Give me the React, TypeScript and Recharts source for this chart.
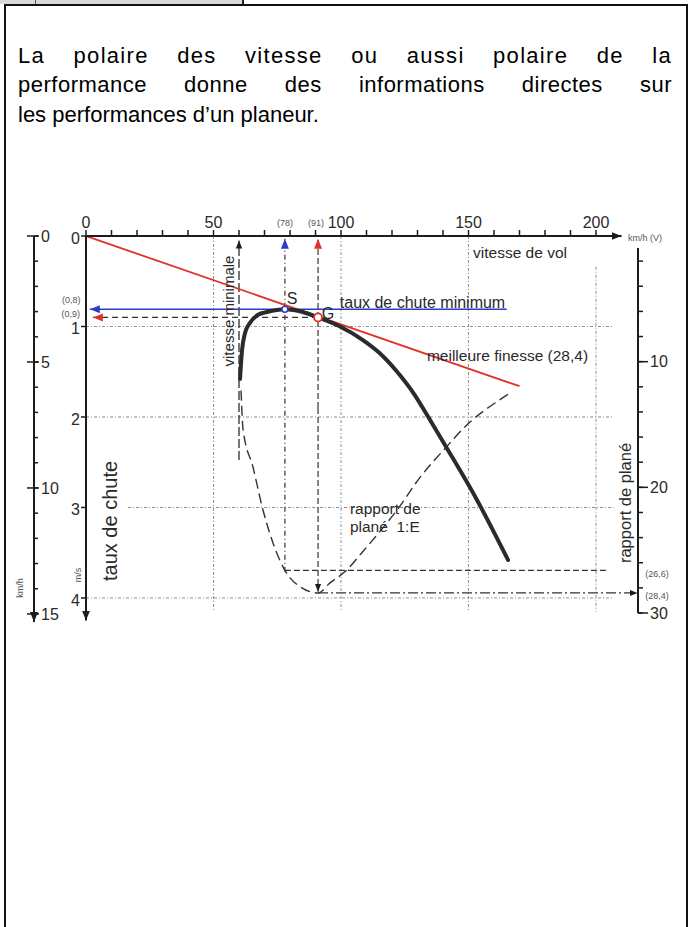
import React from 'react';
import { ComposedChart, Line, XAxis, YAxis, ReferenceLine, ReferenceDot } from 'recharts';

const FONT = '"Liberation Sans", Arial, Helvetica, sans-serif';

// ---------- data ----------
const speedTicks = [0, 10, 20, 30, 40, 50, 60, 70, 80, 90, 100, 110, 120, 130, 140, 150, 160, 170, 180, 190, 200];
const speedLabels = [0, 50, 100, 150, 200];
const sinkTicks = [0, 1, 2, 3, 4];
const kmhTicks = [0, 1, 2, 3, 4, 5, 6, 7, 8, 9, 10, 11, 12, 13, 14, 15];
const kmhLabels = [0, 5, 10, 15];
const glideTicks = [2, 4, 6, 8, 10, 12, 14, 16, 18, 20, 22, 24, 26, 28, 30];
const glideLabels = [10, 20, 30];

// polaire des vitesses (km/h -> m/s)
const polarSpeed = [60.4, 61.2, 62.4, 64.3, 67.5, 71, 78, 85, 91, 99.6, 108.6, 115, 122, 129, 134, 141, 153, 165.5];
const polarSink = [1.58, 1.26, 1.07, 0.96, 0.87, 0.84, 0.81, 0.84, 0.9, 1.0, 1.15, 1.29, 1.5, 1.76, 1.99, 2.32, 2.9, 3.58];

// rapport de plané 1:E (km/h -> E)
const glideSpeed = [60.8, 61.6, 65.5, 69.4, 73.3, 78, 83.9, 91, 95.7, 101.6, 108.6, 116.5, 122, 131, 140.8, 150.6, 161, 166.3];
const glideRatio = [12.3, 15.4, 18.4, 21.8, 24.4, 26.6, 27.9, 28.4, 27.6, 26.7, 25.1, 23.2, 21.8, 19.2, 16.9, 14.8, 13.2, 12.5];

// tangente meilleure finesse
const tangentSpeed = [0, 170];
const tangentSink = [0, 1.66];

// grid
const gridSpeeds = [50, 100, 150, 200];
const gridSpeedFrom = [0, 0, 0, 0.34];
const gridSinks = [1, 2, 3, 4];
const gridSinkFrom = [0, 0, 16.5, 0];

// key values
const minSinkSpeed = 78;
const minSink = 0.81;
const bestGlideSpeed = 91;
const bestGlideSink = 0.9;
const minSpeed = 60;
const glideAtMinSink = 26.6;
const bestGlide = 28.4;

// annotations [text, speed, sink]
const annoTexts = ['S', 'G', 'taux de chute minimum', 'vitesse de vol', 'meilleure finesse (28,4)'];
const annoSpeeds = [80.8, 94.9, 131.96, 170.2, 165.3];
const annoSinks = [0.685, 0.851, 0.729, 0.177, 1.315];
const annoSizes = [16, 16, 16, 15.5, 15.5];

const smallTexts = ['km/h (V)', '(78)', '(91)', '(0,8)', '(0,9)', '(26,6)', '(28,4)'];
const smallSpeeds = [219.2, 78, 90.2, -5.8, -6.0, 223.9, 223.9];
const smallSinks = [0.022, -0.144, -0.144, 0.71, 0.855, 3.735, 3.978];

const polarData = polarSpeed.map((v, i) => ({ v, w: polarSink[i] }));
const glideData = glideSpeed.map((v, i) => ({ v, e: glideRatio[i] }));
const tangentData = tangentSpeed.map((v, i) => ({ v, w: tangentSink[i] }));

const INK = '#1c1c1c';
const TXT = '#2a2a2a';
const GRID = '#8c8c8c';
const BLUE = '#2c3cc9';
const RED = '#e0312b';

function Marker({ id, color, size }: { id: string; color: string; size: number }) {
  return (
    <marker id={id} viewBox="0 0 10 10" refX={10} refY={5} markerWidth={size} markerHeight={size} markerUnits="userSpaceOnUse" orient="auto">
      <path d="M0,1 L10,5 L0,9 z" fill={color} />
    </marker>
  );
}

function Defs() {
  return (
    <svg width={0} height={0} style={{ position: 'absolute', left: 0, top: 0 }}>
      <defs>
        <Marker id="arrAxis" color={INK} size={10} />
        <Marker id="arrBlack" color={INK} size={8} />
        <Marker id="arrBlue" color={BLUE} size={10} />
        <Marker id="arrRed" color={RED} size={10} />
      </defs>
    </svg>
  );
}

function KmhTick(props: any) {
  const { x, y, payload } = props;
  const v = payload.value;
  const major = kmhLabels.includes(v);
  return (
    <g>
      {major && <line x1={x - 14} x2={x - 2} y1={y} y2={y} stroke={INK} strokeWidth={1.5} />}
      {major && (
        <text x={x} y={y} dy="0.36em" fontSize={16} fill={TXT} fontFamily={FONT} textAnchor="start">
          {v}
        </text>
      )}
    </g>
  );
}

function GlideTick(props: any) {
  const { x, y, payload } = props;
  const v = payload.value;
  const major = glideLabels.includes(v);
  return (
    <g>
      {major && <line x1={x - 12} x2={x - 2} y1={y} y2={y} stroke={INK} strokeWidth={1.5} />}
      {major && (
        <text x={x} y={y} dy="0.36em" fontSize={16} fill={TXT} fontFamily={FONT} textAnchor="start">
          {v}
        </text>
      )}
    </g>
  );
}

const dummyK = [{ v: 0, k: 1 }, { v: 1, k: 14 }];
const dummyG = [{ v: 0, g: 2 }, { v: 1, g: 28 }];

export default function App() {
  return (
    <div style={{ position: 'absolute', left: 0, top: 0, width: 689, height: 927, background: '#fff', fontFamily: FONT, overflow: 'hidden' }}>
      <Defs />
      {/* frame */}
      <div style={{ position: 'absolute', left: 0, top: 0, width: 243, height: 4, background: '#d8d8d8' }} />
      <div style={{ position: 'absolute', left: 35, top: 0, width: 1, height: 4, background: '#555' }} />
      <div style={{ position: 'absolute', left: 242, top: 0, width: 1.5, height: 4, background: '#222' }} />
      <div style={{ position: 'absolute', left: 4, top: 4, width: 684, height: 2, background: '#111' }} />
      <div style={{ position: 'absolute', left: 4, top: 4, width: 2, height: 923, background: '#111' }} />
      <div style={{ position: 'absolute', left: 686, top: 4, width: 2, height: 923, background: '#111' }} />

      {/* paragraph */}
      <div style={{ position: 'absolute', left: 18, top: 40.6, width: 654, fontSize: 22, lineHeight: '29.5px', color: '#000', fontFamily: FONT }}>
        <div style={{ textAlign: 'justify', textAlignLast: 'justify', letterSpacing: '1.3px' }}>La polaire des vitesse ou aussi polaire de la</div>
        <div style={{ textAlign: 'justify', textAlignLast: 'justify', letterSpacing: '0.5px' }}>performance donne des informations directes sur</div>
        <div style={{ textAlign: 'left' }}>les performances d’un planeur.</div>
      </div>

      {/* main chart */}
      <div style={{ position: 'absolute', left: 0, top: 0 }}>
        <ComposedChart width={689} height={700} margin={{ top: 206, right: 67.5, bottom: 79.4, left: 56 }}>
          <XAxis
            type="number"
            dataKey="v"
            orientation="top"
            domain={[0, 210]}
            allowDataOverflow
            ticks={speedTicks}
            interval={0}
            height={30}
            tickSize={6}
            tickMargin={2}
            tickFormatter={(v: number) => (speedLabels.includes(v) ? String(v) : '')}
            axisLine={{ stroke: INK, strokeWidth: 2, markerEnd: 'url(#arrAxis)' } as any}
            tickLine={{ stroke: INK, strokeWidth: 1.5 }}
            tick={{ fontSize: 16, fill: TXT, fontFamily: FONT }}
          />
          <YAxis
            type="number"
            domain={[0, 4.25]}
            reversed
            allowDataOverflow
            ticks={sinkTicks}
            interval={0}
            width={30}
            tickSize={5}
            tickMargin={1}
            axisLine={{ stroke: INK, strokeWidth: 2, markerEnd: 'url(#arrAxis)' } as any}
            tickLine={{ stroke: INK, strokeWidth: 1.5 }}
            tick={{ fontSize: 16, fill: TXT, fontFamily: FONT, dy: 2 }}
          />
          <YAxis yAxisId="E" type="number" hide domain={[0, 30.6]} reversed allowDataOverflow />

          {/* grid */}
          {gridSpeeds.map((s, i) => (
            <ReferenceLine key={'gv' + s} ifOverflow="visible" segment={[{ x: s, y: gridSpeedFrom[i] }, { x: s, y: 4.15 }]} stroke={GRID} strokeWidth={1} strokeDasharray="3 2 1 2" />
          ))}
          {gridSinks.map((w, i) => (
            <ReferenceLine key={'gh' + w} ifOverflow="visible" segment={[{ x: gridSinkFrom[i], y: w }, { x: 207, y: w }]} stroke={GRID} strokeWidth={1} strokeDasharray="3 2 1 2" />
          ))}

          {/* vitesse minimale */}
          <ReferenceLine ifOverflow="visible" segment={[{ x: minSpeed, y: 2.475 }, { x: minSpeed, y: 0.05 }]} stroke={INK} strokeWidth={1.2} strokeDasharray="9 3" markerEnd="url(#arrBlack)" />

          {/* verticals at S and G */}
          <ReferenceLine ifOverflow="visible" segment={[{ x: minSinkSpeed, y: 3.71 }, { x: minSinkSpeed, y: 0.03 }]} stroke="#333" strokeWidth={1.2} strokeDasharray="5 3 1 3" markerEnd="url(#arrBlue)" />
          <ReferenceLine ifOverflow="visible" segment={[{ x: bestGlideSpeed, y: 1.9 }, { x: bestGlideSpeed, y: 0.03 }]} stroke="#333" strokeWidth={1.2} strokeDasharray="6 3" markerEnd="url(#arrRed)" />
          <ReferenceLine ifOverflow="visible" segment={[{ x: bestGlideSpeed, y: 1.9 }, { x: bestGlideSpeed, y: 3.93 }]} stroke="#333" strokeWidth={1.2} strokeDasharray="6 3" markerEnd="url(#arrBlack)" />

          {/* horizontals at S and G */}
          <ReferenceLine ifOverflow="visible" segment={[{ x: 165, y: minSink }, { x: 1.5, y: minSink }]} stroke={BLUE} strokeWidth={1.6} markerEnd="url(#arrBlue)" />
          <ReferenceLine ifOverflow="visible" segment={[{ x: bestGlideSpeed, y: bestGlideSink }, { x: 2.7, y: bestGlideSink }]} stroke="#333" strokeWidth={1.3} strokeDasharray="6 4" markerEnd="url(#arrRed)" />

          {/* glide ratio horizontals */}
          <ReferenceLine yAxisId="E" ifOverflow="visible" segment={[{ x: minSinkSpeed, y: glideAtMinSink }, { x: 205, y: glideAtMinSink }]} stroke="#333" strokeWidth={1.3} strokeDasharray="6 3" />
          <ReferenceLine yAxisId="E" ifOverflow="visible" segment={[{ x: bestGlideSpeed, y: bestGlide }, { x: 216.3, y: bestGlide }]} stroke="#333" strokeWidth={1.3} strokeDasharray="10 3 2 3" markerEnd="url(#arrBlack)" />

          {/* curves */}
          <Line yAxisId="E" data={glideData} dataKey="e" type="monotone" stroke="#333" strokeWidth={1.4} strokeDasharray="10 5" dot={false} isAnimationActive={false} />
          <Line data={tangentData} dataKey="w" type="linear" stroke={RED} strokeWidth={1.8} dot={false} isAnimationActive={false} />
          <Line data={polarData} dataKey="w" type="monotone" stroke="#2b2b2b" strokeWidth={4} strokeLinecap="round" dot={false} isAnimationActive={false} />

          {/* points S and G */}
          <ReferenceDot x={minSinkSpeed} y={minSink} r={3} fill="#fff" stroke={BLUE} strokeWidth={1.6} ifOverflow="visible" />
          <ReferenceDot x={bestGlideSpeed} y={bestGlideSink} r={4} fill="#fff" stroke={RED} strokeWidth={1.8} ifOverflow="visible" />

          {/* annotations */}
          {annoTexts.map((t, i) => (
            <ReferenceDot key={'a' + i} x={annoSpeeds[i]} y={annoSinks[i]} r={0} fill="none" stroke="none" ifOverflow="visible"
              label={{ value: t, position: 'center', fontSize: annoSizes[i], fill: TXT, fontFamily: FONT }} />
          ))}
          <ReferenceDot x={103.5} y={3.006} r={0} fill="none" stroke="none" ifOverflow="visible"
            label={{ value: 'rapport de', position: 'right', offset: 0, fontSize: 15.5, fill: TXT, fontFamily: FONT }} />
          <ReferenceDot x={103.5} y={3.215} r={0} fill="none" stroke="none" ifOverflow="visible"
            label={{ value: 'plané\u00a0\u00a01:E', position: 'right', offset: 0, fontSize: 15.5, fill: TXT, fontFamily: FONT }} />
          <ReferenceDot x={56.0} y={0.829} r={0} fill="none" stroke="none" ifOverflow="visible"
            label={{ value: 'vitesse minimale', position: 'center', angle: -90, fontSize: 15, fill: TXT, fontFamily: FONT }} />
          <ReferenceDot x={9.41} y={3.149} r={0} fill="none" stroke="none" ifOverflow="visible"
            label={{ value: 'taux de chute', position: 'center', angle: -90, fontSize: 20, fill: TXT, fontFamily: FONT }} />
          <ReferenceDot x={211.4} y={2.95} r={0} fill="none" stroke="none" ifOverflow="visible"
            label={{ value: 'rapport de plané', position: 'center', angle: -90, fontSize: 16.5, fill: TXT, fontFamily: FONT }} />
          <ReferenceDot x={-3.14} y={3.746} r={0} fill="none" stroke="none" ifOverflow="visible"
            label={{ value: 'm/s', position: 'center', angle: -90, fontSize: 9, fill: '#555', fontFamily: FONT }} />
          <ReferenceDot x={-25.9} y={3.89} r={0} fill="none" stroke="none" ifOverflow="visible"
            label={{ value: 'km/h', position: 'center', angle: -90, fontSize: 9, fill: '#555', fontFamily: FONT }} />
          {smallTexts.map((t, i) => (
            <ReferenceDot key={'s' + i} x={smallSpeeds[i]} y={smallSinks[i]} r={0} fill="none" stroke="none" ifOverflow="visible"
              label={{ value: t, position: 'center', fontSize: 9, fill: '#555', fontFamily: FONT }} />
          ))}
        </ComposedChart>
      </div>

      {/* outer km/h axis */}
      <div style={{ position: 'absolute', left: 0, top: 0 }}>
        <ComposedChart width={100} height={700} margin={{ top: 236, right: 0, bottom: 78, left: 0 }}>
          <XAxis type="number" dataKey="v" hide domain={[0, 1]} />
          <YAxis
            yAxisId="k"
            orientation="right"
            type="number"
            domain={[0, 15.32]}
            reversed
            allowDataOverflow
            ticks={kmhTicks}
            interval={0}
            width={66}
            tickSize={4}
            tickMargin={3}
            axisLine={{ stroke: INK, strokeWidth: 2, markerEnd: 'url(#arrAxis)' } as any}
            tickLine={{ stroke: INK, strokeWidth: 1.5 }}
            tick={<KmhTick />}
          />
          <Line yAxisId="k" data={dummyK} dataKey="k" stroke="none" dot={false} isAnimationActive={false} />
        </ComposedChart>
      </div>

      {/* rapport de plané axis */}
      <div style={{ position: 'absolute', left: 0, top: 0 }}>
        <ComposedChart width={689} height={700} margin={{ top: 248, right: 0, bottom: 87, left: 0 }}>
          <XAxis type="number" dataKey="v" hide domain={[0, 1]} />
          <YAxis
            yAxisId="g"
            orientation="right"
            type="number"
            domain={[0.955, 30]}
            reversed
            allowDataOverflow
            ticks={glideTicks}
            interval={0}
            width={51}
            tickSize={5}
            tickMargin={7}
            axisLine={{ stroke: INK, strokeWidth: 2 }}
            tickLine={{ stroke: INK, strokeWidth: 1.5 }}
            tick={<GlideTick />}
          />
          <Line yAxisId="g" data={dummyG} dataKey="g" stroke="none" dot={false} isAnimationActive={false} />
        </ComposedChart>
      </div>
    </div>
  );
}
